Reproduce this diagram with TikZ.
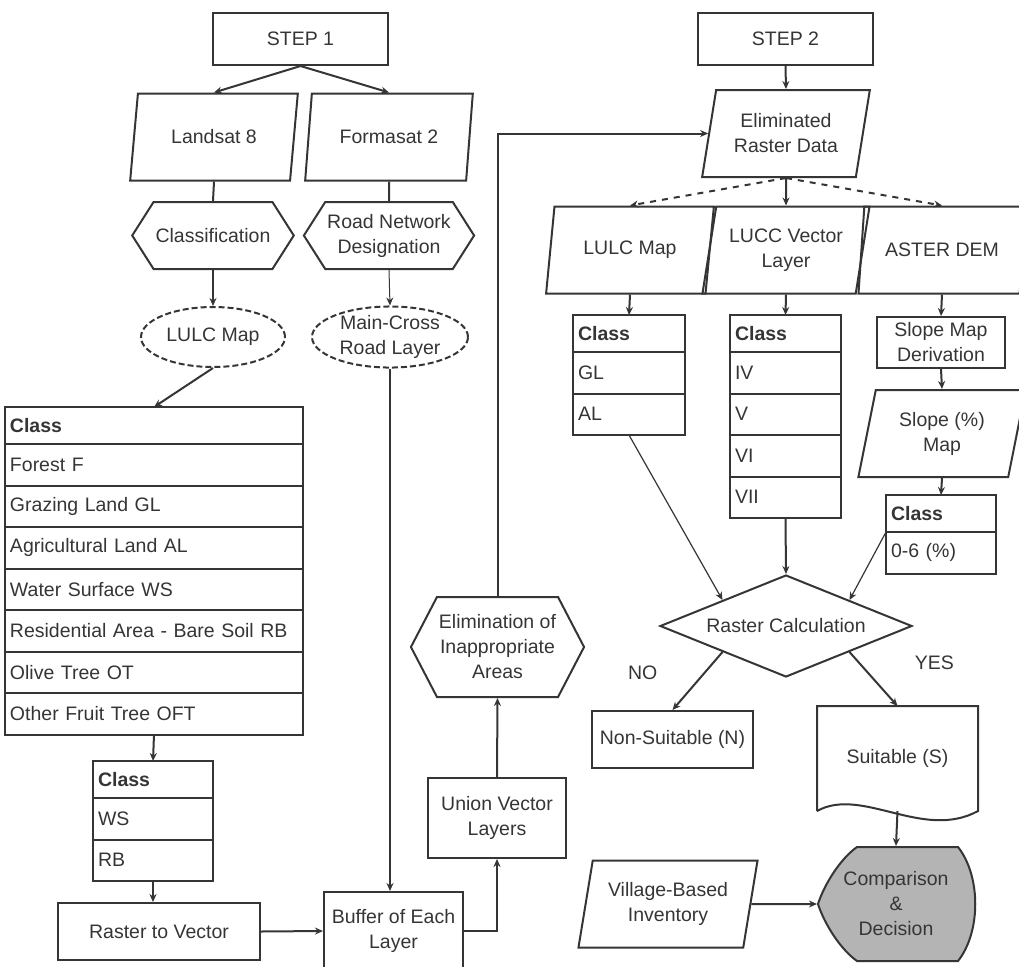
\documentclass[tikz,border=0pt]{standalone}
\usepackage{fontspec}
\setmainfont{Liberation Sans}
\usetikzlibrary{positioning,shapes.geometric,shapes.symbols,arrows.meta}
\definecolor{inkgray}{HTML}{353535}
\definecolor{decisiongray}{HTML}{B4B4B4}

\begin{document}
\begin{tikzpicture}[
	x=0.5pt, y=-0.5pt,
	color=inkgray, line width=1pt,
	>={Stealth[length=4pt,width=3.5pt]},
	every node/.style={font=\fontsize{9.75}{12.5}\selectfont},
	stepbox/.style = {draw, rectangle, minimum width=87.5pt, minimum height=26pt},
	databox/.style = {draw, trapezium, trapezium left angle=76, trapezium right angle=104, trapezium stretches=true, minimum width=84pt, minimum height=43.5pt, align=center, inner sep=1pt},
	procnode/.style = {draw, signal, signal to=west and east, signal pointer angle=115, minimum width=80.5pt, minimum height=33.5pt, align=center, inner sep=1pt},
	layernode/.style = {draw, ellipse, dash pattern=on 3pt off 1.5pt, minimum width=72pt, minimum height=30pt, align=center, inner sep=0pt},
	opbox/.style = {draw, rectangle, align=center},
	cell/.style = {draw, rectangle, outer sep=0pt, minimum height=20.75pt, inner xsep=2.5pt, inner ysep=1pt, text width=#1, align=left},
	headcell/.style = {cell=#1, minimum height=18.5pt, anchor=north},
	decision/.style = {draw, diamond, aspect=2.5, minimum width=126pt, minimum height=51pt, inner sep=0pt},
]
\useasboundingbox (0,0) rectangle (1019,966);

% step 1
\node[stepbox] (step1) at (300.5,39) {STEP 1};
\node[databox] (landsat) at (214,137) {Landsat 8};
\node[databox] (formasat) at (389,137) {Formasat 2};
\node[procnode] (classif) at (213,235.5) {Classification};
\node[procnode] (roadnet) at (389,235.5) {Road Network\\Designation};
\node[layernode] (lulcmap) at (213,337) {LULC Map};
\node[layernode, minimum width=78pt] (maincross) at (390,337) {Main-Cross\\Road Layer};

\node[headcell=144pt] (lulcclass) at (154,407) {\textbf{Class}};
\node[cell=144pt] (forest) [below=0pt of lulcclass] {Forest F};
\node[cell=144pt] (grazing) [below=0pt of forest] {Grazing Land GL};
\node[cell=144pt] (agri) [below=0pt of grazing] {Agricultural Land AL};
\node[cell=144pt] (water) [below=0pt of agri] {Water Surface WS};
\node[cell=144pt] (resid) [below=0pt of water] {Residential Area - Bare Soil RB};
\node[cell=144pt] (olive) [below=0pt of resid] {Olive Tree OT};
\node[cell=144pt] (fruit) [below=0pt of olive] {Other Fruit Tree OFT};

\node[headcell=55pt] (selclass) at (153,761) {\textbf{Class}};
\node[cell=55pt] (selws) [below=0pt of selclass] {WS};
\node[cell=55pt] (selrb) [below=0pt of selws] {RB};

\node[opbox, minimum width=101pt, minimum height=28.5pt] (rastvec) at (159,931.5) {Raster to Vector};
\node[opbox, minimum width=69.5pt, minimum height=39pt] (buffer) at (393.5,931) {Buffer of Each\\Layer};
\node[opbox, minimum width=69pt, minimum height=40pt] (union) at (497,818) {Union Vector\\Layers};
\node[procnode, signal pointer angle=125, minimum width=84.5pt, minimum height=50pt] (elimin) at (497.5,647) {Elimination of\\Inappropriate\\Areas};

% step 2
\node[stepbox] (step2) at (785.5,39) {STEP 2};
\node[databox] (elimraster) at (786,133.5) {Eliminated\\Raster Data};
\node[databox] (lulcmap2) at (630,250) {LULC Map};
\node[databox] (luccvec) at (786,250) {LUCC Vector\\Layer};
\node[databox] (aster) at (942,250) {ASTER DEM};
\node[opbox, minimum width=64pt, minimum height=25.5pt, inner ysep=1pt] (slopederiv) at (941,342.5) {Slope Map\\Derivation};
\node[databox] (slopemap) at (942,433.5) {Slope (\%)\\Map};

\node[headcell=51pt] (glclass) at (629,315) {\textbf{Class}};
\node[cell=51pt] (glrow) [below=0pt of glclass] {GL};
\node[cell=51pt] (alrow) [below=0pt of glrow] {AL};

\node[headcell=50.5pt] (capclass) at (785.5,315) {\textbf{Class}};
\node[cell=50.5pt] (capiv) [below=0pt of capclass] {IV};
\node[cell=50.5pt] (capv) [below=0pt of capiv] {V};
\node[cell=50.5pt] (capvi) [below=0pt of capv] {VI};
\node[cell=50.5pt] (capvii) [below=0pt of capvi] {VII};

\node[headcell=50pt] (slopeclass) at (941,495) {\textbf{Class}};
\node[cell=50pt] (sloperow) [below=0pt of slopeclass] {0-6 (\%)};

\node[decision] (rastcalc) at (786,626) {Raster Calculation};
\node[opbox, minimum width=80.5pt, minimum height=28.5pt] (nonsuit) at (672.5,739.5) {Non-Suitable (N)};
\node[minimum width=79.5pt, minimum height=51.5pt] (suit) at (897.5,758.5) {Suitable (S)};
\draw (suit.south west) -- (suit.north west) -- (suit.north east) -- (suit.south east) .. controls +(-55,30) and +(45,-25) .. (suit.south west);

\filldraw[fill=decisiongray, shift={(896,904)}] (-39,-57) -- (62,-57) .. controls (85,-28) and (85,28) .. (62,57) -- (-39,57) .. controls (-56,45) and (-72,19) .. (-78,0) .. controls (-72,-19) and (-56,-45) .. (-39,-57) -- cycle (0,0) node[minimum width=78pt, minimum height=57pt, align=center] (compare) {Comparison\\\&\\Decision};
\node[databox, minimum width=90pt] (village) at (668,904) {Village-Based\\Inventory};

\draw[->] (step1.south) -- (landsat.north);
\draw[->] (step1.south) -- (formasat.north);
\draw (landsat.south) -- (classif.north);
\draw (formasat.south) -- (roadnet.north);
\draw[->] (classif.south) -- (lulcmap.north);
\draw[->, line width=0.5pt] (roadnet.south) -- (maincross.north);
\draw[->] (lulcmap.south) -- (lulcclass.north);
\draw[->] (fruit.south) -- (selclass.north);
\draw[->] (selrb.south) -- (selrb.south |- rastvec.north);
\draw[->] (rastvec.east) -- (buffer.west);
\draw[->] (maincross.south) -- (maincross.south |- buffer.north);
\draw[->] (buffer.east) -| (union.south);
\draw[->] (union.north) -- (elimin.south);
\draw[->] (elimin.north) |- (elimraster.west);

\draw[->] (step2.south) -- (elimraster.north);
\draw[->, dashed] (elimraster.south) -- (lulcmap2.north);
\draw[->] (elimraster.south) -- (luccvec.north);
\draw[->, dashed] (elimraster.south) -- (aster.north);
\draw[->] (lulcmap2.south) -- (glclass.north);
\draw[->] (luccvec.south) -- (capclass.north);
\draw[->] (aster.south) -- (slopederiv.north);
\draw[->] (slopederiv.south) -- (slopemap.north);
\draw[->] (slopemap.south) -- (slopeclass.north);
\draw[->, line width=0.6pt] (alrow.south) -- (rastcalc.north west);
\draw[->] (capvii.south) -- (rastcalc.north);
\draw[->, line width=0.6pt] (sloperow.north west) -- (rastcalc.north east);
\draw[->] (rastcalc.south west) -- node[pos=0.35, left=20pt] {NO} (nonsuit.north);
\draw[->] (rastcalc.south east) -- node[pos=0.2, right=24pt] {YES} (suit.north);
\draw[->] (suit.south) -- (compare.north);
\draw[->] (village.east) -- (compare.west);

\end{tikzpicture}
\end{document}
